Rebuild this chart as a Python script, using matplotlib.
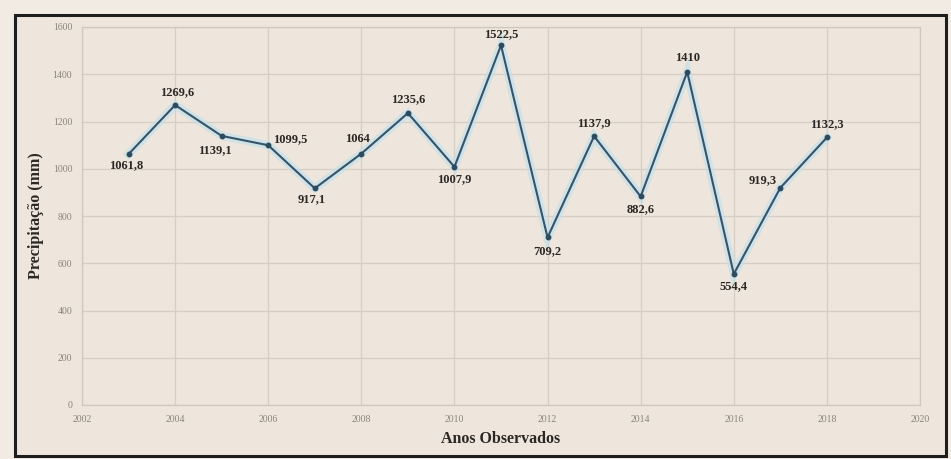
import matplotlib
matplotlib.use("Agg")
import matplotlib.pyplot as plt
from matplotlib.patches import Rectangle

# precipitação anual observada
anos = [2003, 2004, 2005, 2006, 2007, 2008, 2009, 2010,
        2011, 2012, 2013, 2014, 2015, 2016, 2017, 2018]
precip = [1061.8, 1269.6, 1139.1, 1099.5, 917.1, 1064, 1235.6, 1007.9,
          1522.5, 709.2, 1137.9, 882.6, 1410, 554.4, 919.3, 1132.3]
rotulos = ["1061,8", "1269,6", "1139,1", "1099,5", "917,1", "1064", "1235,6", "1007,9",
           "1522,5", "709,2", "1137,9", "882,6", "1410", "554,4", "919,3", "1132,3"]
# posicao de cada rotulo em relacao ao ponto (pixels)
desloc = [(-2, -11), (2, 13), (-7, -14), (22, 6), (-3, -11), (-4, 15), (0, 14), (0, -12),
          (0, 11), (0, -14), (0, 13), (0, -13), (0, 14), (0, -12), (-18, 8), (0, 13)]

anos_ticks = list(range(2002, 2021, 2))
y_ticks = list(range(0, 1601, 200))

papel = "#eee6dc"
plt.rcParams["font.family"] = ["Liberation Serif", "DejaVu Serif"]

fig = plt.figure(figsize=(9.51, 4.59), dpi=100)
fig.patch.set_facecolor("#f1ebe3")

# moldura do grafico
fundo = fig.add_axes([0, 0, 1, 1], zorder=-1)
fundo.set_xlim(0, 951)
fundo.set_ylim(459, 0)
fundo.axis("off")
fundo.add_patch(Rectangle((15, 15), 931, 441, facecolor=papel,
                          edgecolor="#1e1e1e", linewidth=2.2))

ax = fig.add_axes([82 / 951, 54 / 459, 838 / 951, 378 / 459])
ax.set_facecolor(papel)
ax.set_xlim(2002, 2020)
ax.set_ylim(0, 1600)
ax.set_xticks(anos_ticks)
ax.set_yticks(y_ticks)
ax.grid(True, color="#d6cec4", linewidth=0.9)
ax.set_axisbelow(True)
for s in ax.spines.values():
    s.set_color("#d0c8be")
    s.set_linewidth(0.9)
ax.tick_params(length=0, labelsize=7, labelcolor="#8a847c", pad=7)

# brilho azul claro atras da linha
ax.plot(anos, precip, color="#bfe0ee", linewidth=6, alpha=0.6, solid_joinstyle="miter")
ax.plot(anos, precip, color="#34546b", linewidth=1.5, marker="o", markersize=3.2,
        markerfacecolor="#2e4a5e", markeredgecolor="#2e4a5e")

for x, y, t, (dx, dy) in zip(anos, precip, rotulos, desloc):
    ax.annotate(t, (x, y), xytext=(dx * 0.72, dy * 0.72), textcoords="offset points",
                ha="center", va="center", fontsize=9, fontweight="bold",
                color="#2b2724")

ax.set_xlabel("Anos Observados", fontsize=11.5, fontweight="bold", color="#2b2724", labelpad=5)
ax.set_ylabel("Precipitação (mm)", fontsize=11.5, fontweight="bold", color="#2b2724", labelpad=6)

fig.savefig("out.png", dpi=100, facecolor=fig.get_facecolor())
